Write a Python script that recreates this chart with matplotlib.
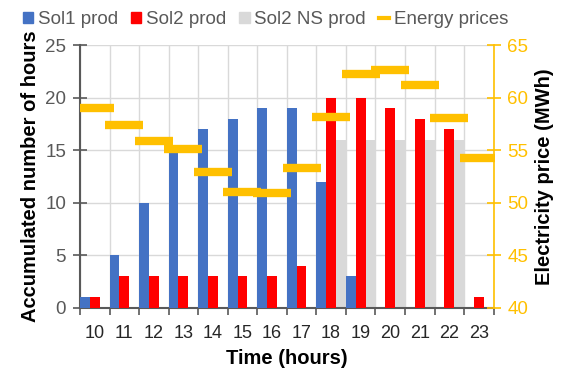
import numpy as np
import matplotlib.pyplot as plt
from matplotlib.lines import Line2D
from matplotlib.patches import Patch

plt.rcParams["font.family"] = ["Liberation Sans", "DejaVu Sans"]

hours = ["10", "11", "12", "13", "14", "15", "16", "17", "18", "19", "20", "21", "22", "23"]
sol1_prod = [1, 5, 10, 15, 17, 18, 19, 19, 12, 3, 0, 0, 0, 0]
sol2_prod = [1, 3, 3, 3, 3, 3, 3, 4, 20, 20, 19, 18, 17, 1]
sol2_ns_prod = [0, 0, 0, 0, 0, 0, 0, 0, 16, 16, 16, 16, 16, 0]
energy_prices = [59.0, 57.4, 55.9, 55.1, 52.9, 51.0, 50.9, 53.3, 58.2, 62.3, 62.6, 61.2, 58.1, 54.3]

BLUE = "#4472C4"
RED = "#FF0000"
GREY = "#D9D9D9"
GOLD = "#FFC000"
AXIS = "#595959"

fig = plt.figure(figsize=(5.65, 3.76), dpi=100)
ax = fig.add_axes([0.1416, 0.181, 0.732, 0.699])
ax2 = ax.twinx()

x = np.arange(len(hours))
w = 1 / 3
ax.bar(x - w, sol1_prod, w, color=BLUE, zorder=3)
ax.bar(x, sol2_prod, w, color=RED, zorder=3)
ax.bar(x + w, sol2_ns_prod, w, color=GREY, zorder=2)

ax2.plot(x, energy_prices, linestyle="none", marker="_", markersize=27,
         markeredgewidth=6, color=GOLD, zorder=4)

ax.set_xlim(-0.5, len(hours) - 0.5)
ax.set_ylim(0, 25)
ax2.set_ylim(40, 65)
ax.set_yticks(range(0, 26, 5))
ax2.set_yticks(range(40, 66, 5))

# category labels at the centres, tick marks and grid at the boundaries
ax.set_xticks(x)
ax.set_xticklabels(hours)
ax.set_xticks(np.arange(len(hours) + 1) - 0.5, minor=True)
ax.tick_params(axis="x", which="major", length=0, labelsize=13, labelcolor="#262626", pad=12)
ax.tick_params(axis="x", which="minor", length=5, width=1.2, color=AXIS, direction="out")
ax.tick_params(axis="y", length=10, width=1.2, color=AXIS, direction="inout",
               labelsize=13.5, labelcolor=AXIS, pad=5)
ax2.tick_params(axis="y", length=10, width=1.2, color=GOLD, direction="inout",
                labelsize=13.5, labelcolor=GOLD, pad=5)

ax.grid(True, which="minor", axis="x", color="#D9D9D9", linewidth=1, zorder=0)
ax.grid(True, which="major", axis="y", color="#D9D9D9", linewidth=1, zorder=0)
ax.set_axisbelow(True)

for a in (ax, ax2):
    a.spines["top"].set_visible(False)
ax.spines["right"].set_visible(False)
ax.spines["left"].set_color(AXIS)
ax.spines["left"].set_linewidth(1.5)
ax.spines["bottom"].set_color(AXIS)
ax.spines["bottom"].set_linewidth(1.5)
ax2.spines["left"].set_visible(False)
ax2.spines["bottom"].set_visible(False)
ax2.spines["right"].set_color(GOLD)
ax2.spines["right"].set_linewidth(1.2)

ax.set_xlabel("Time (hours)", fontsize=14.5, fontweight="bold", labelpad=5)
ax.set_ylabel("Accumulated number of hours", fontsize=14.5, fontweight="bold", labelpad=4)
ax2.set_ylabel("Electricity price (MWh)", fontsize=14.5, fontweight="bold", labelpad=5)

handles = [
    Patch(color=BLUE, label="Sol1 prod"),
    Patch(color=RED, label="Sol2 prod"),
    Patch(color=GREY, label="Sol2 NS prod"),
    Line2D([], [], color=GOLD, linewidth=3, label="Energy prices"),
]
leg = fig.legend(handles=handles, loc="upper center", bbox_to_anchor=(0.47, 1.015), ncol=4,
                 frameon=False, fontsize=13.5, handlelength=0.55, handleheight=0.55,
                 handletextpad=0.25, columnspacing=0.7)
for t in leg.get_texts():
    t.set_color(AXIS)

fig.savefig("out.png", dpi=100)
